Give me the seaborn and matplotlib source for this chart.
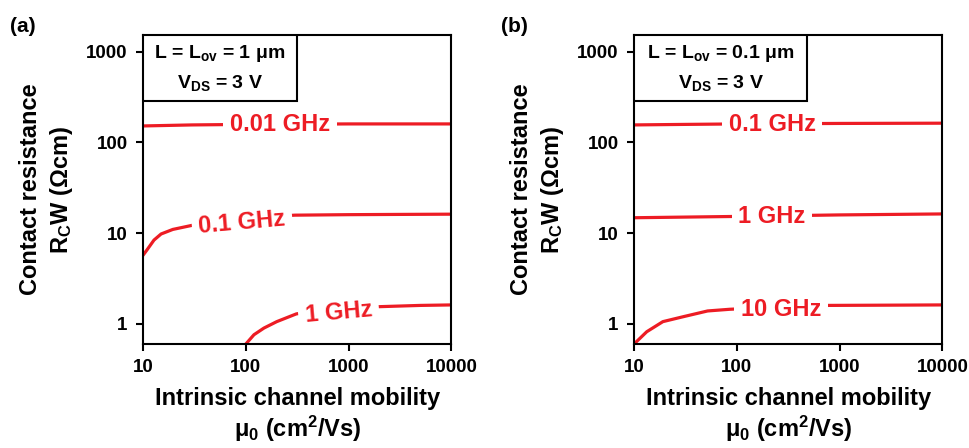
import numpy as np
import pandas as pd
import matplotlib
matplotlib.use("Agg")
import matplotlib.pyplot as plt
from matplotlib.patches import Rectangle
import seaborn as sns

# ---- data ----
# panel (a): L = Lov = 1 um
a_001_x = [10, 30, 100, 1000, 10000]
a_001_y = [152, 156, 158, 160, 160]
a_01_x = [10, 11, 12.8, 15, 19.5, 30, 50, 100, 200, 300, 1000, 3000, 10000]
a_01_y = [5.7, 6.6, 8.4, 9.8, 11, 12.2, 13.3, 14.5, 15.4, 15.8, 16.0, 16.1, 16.2]
a_1_x = [100, 120, 150, 200, 310, 500, 1000, 2000, 5000, 10000]
a_1_y = [0.6, 0.76, 0.9, 1.06, 1.29, 1.4, 1.5, 1.55, 1.6, 1.62]

# panel (b): L = Lov = 0.1 um
b_01_x = [10, 30, 100, 1000, 10000]
b_01_y = [156, 158, 160, 162, 163]
b_1_x = [10, 100, 1000, 10000]
b_1_y = [14.8, 15.3, 15.9, 16.3]
b_10_x = [10, 13.3, 19.1, 30, 52, 85, 200, 760, 3000, 10000]
b_10_y = [0.6, 0.82, 1.06, 1.2, 1.39, 1.45, 1.52, 1.6, 1.61, 1.62]

panels = [
    dict(tag="(a)", box=r"L = L$_{\mathrm{ov}}$ = 1 μm", boxw=0.498,
         curves=[(a_001_x, a_001_y, "0.01 GHz", 215, 157, 0),
                 (a_01_x, a_01_y, "0.1 GHz", 92, 13.2, 5),
                 (a_1_x, a_1_y, "1 GHz", 800, 1.33, 5)]),
    dict(tag="(b)", box=r"L = L$_{\mathrm{ov}}$ = 0.1 μm", boxw=0.562,
         curves=[(b_01_x, b_01_y, "0.1 GHz", 220, 159, 0),
                 (b_1_x, b_1_y, "1 GHz", 220, 15.3, 0),
                 (b_10_x, b_10_y, "10 GHz", 270, 1.45, 0)]),
]

sns.set_theme(style="ticks")
plt.rcParams['font.family'] = ['Liberation Sans', 'DejaVu Sans']
plt.rcParams['font.weight'] = 'bold'
plt.rcParams['mathtext.fontset'] = 'custom'
plt.rcParams['mathtext.rm'] = 'Liberation Sans:bold'
plt.rcParams['mathtext.it'] = 'Liberation Sans:bold'
plt.rcParams['mathtext.bf'] = 'Liberation Sans:bold'
for k in ['text.color', 'axes.labelcolor', 'xtick.color', 'ytick.color',
          'axes.edgecolor']:
    plt.rcParams[k] = 'black'

RED = '#ed1c24'

fig = plt.figure(figsize=(9.7, 4.48), dpi=100)
lefts = [0.1474, 0.6536]

for left, p in zip(lefts, panels):
    ax = fig.add_axes([left, 0.232, 0.318, 0.690])
    ax.set_xscale('log')
    ax.set_yscale('log')
    for xs, ys, lab, lx, ly, rot in p["curves"]:
        df = pd.DataFrame({"x": xs, "y": ys})
        sns.lineplot(data=df, x="x", y="y", ax=ax, color=RED, linewidth=2.3,
                     sort=False, estimator=None)
        ax.text(lx, ly, lab, color=RED, fontsize=17, fontweight='bold',
                ha='center', va='center', rotation=rot,
                bbox=dict(facecolor='white', edgecolor='none', pad=5))
    ax.set_xlim(10, 10000)
    ax.set_ylim(0.6, 1530)
    ax.set_xticks([10, 100, 1000, 10000])
    ax.set_xticklabels(["10", "100", "1000", "10000"])
    ax.set_yticks([1, 10, 100, 1000])
    ax.set_yticklabels(["1", "10", "100", "1000"])
    ax.minorticks_off()
    ax.tick_params(axis='both', labelsize=13.5, length=5, width=1.5,
                   direction='out', pad=6, colors='black')
    for lbl in ax.get_xticklabels() + ax.get_yticklabels():
        lbl.set_fontweight('bold')
    for s in ax.spines.values():
        s.set_linewidth(1.5)
        s.set_color('black')
        s.set_visible(True)
    ax.set_xlabel("Intrinsic channel mobility\nμ$_{0}$ (cm$^{2}$/Vs)",
                  fontsize=17, fontweight='bold', labelpad=8, linespacing=1.15)
    ax.set_ylabel("Contact resistance\nR$_{\\mathrm{C}}$W (Ωcm)",
                  fontsize=17, fontweight='bold', labelpad=8, linespacing=1.3)

    ax.add_patch(Rectangle((0, 0.786), p["boxw"], 0.214, transform=ax.transAxes,
                           facecolor='white', edgecolor='black', linewidth=1.5,
                           zorder=5))
    ax.text(p["boxw"] / 2, 0.94, p["box"], transform=ax.transAxes,
            ha='center', va='center', fontsize=14, fontweight='bold', zorder=6)
    ax.text(p["boxw"] / 2, 0.845, r"V$_{\mathrm{DS}}$ = 3 V", transform=ax.transAxes,
            ha='center', va='center', fontsize=14, fontweight='bold', zorder=6)

    fig.text(left - 0.137, 0.94, p["tag"], fontsize=15, fontweight='bold',
             ha='left', va='center')

fig.savefig("out.png", dpi=100)
